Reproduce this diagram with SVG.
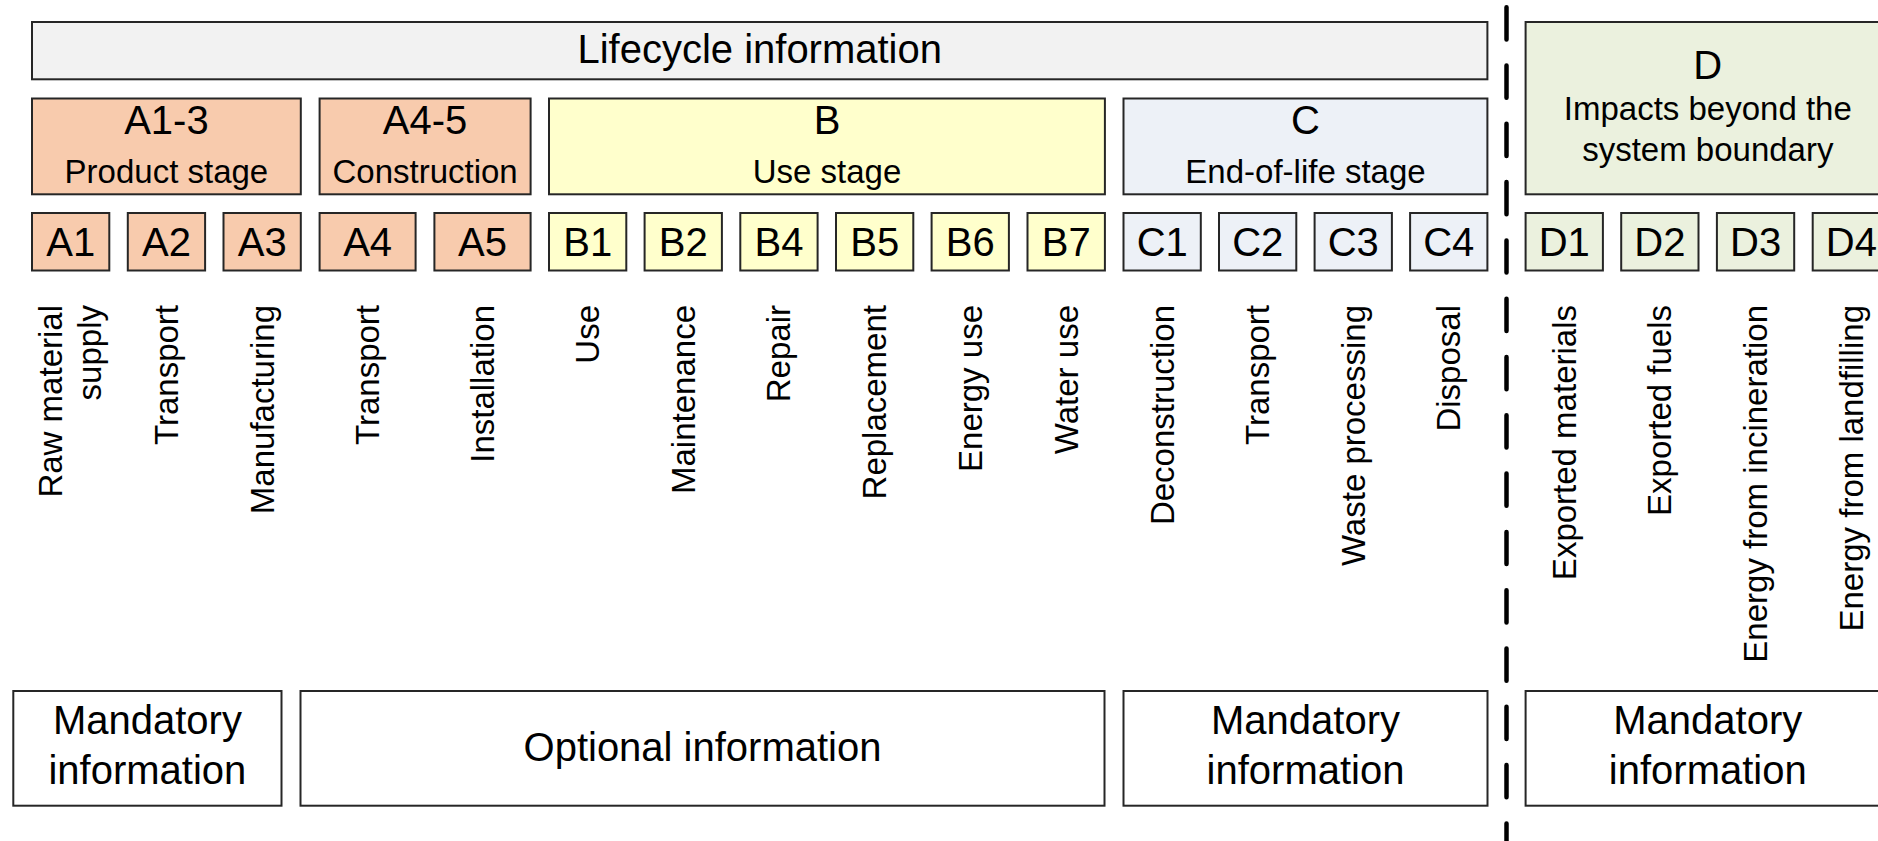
<svg xmlns="http://www.w3.org/2000/svg" width="1878" height="841" viewBox="0 0 1878 841">
<style>
text{font-family:"Liberation Sans",Arial,Helvetica,sans-serif;fill:#000}
.box{stroke:#262626;stroke-width:2}
.life{fill:#f2f2f2}
.a{fill:#f8cbad}
.b{fill:#ffffcc}
.c{fill:#edf1f7}
.d{fill:#ebf1de}
.w{fill:#ffffff}
.t40{font-size:40px;text-anchor:middle}
.t33{font-size:33px;text-anchor:middle}
.v{font-size:33px;text-anchor:end}
.bnd{fill:none;stroke:#000;stroke-width:4.5;stroke-linecap:round;stroke-dasharray:32.2 26.1}
</style>
<rect width="1878" height="841" fill="#ffffff"/>

<g id="lifecycle">
<rect class="box life" x="32" y="22" width="1455.4" height="57.3"/>
<text class="t40" x="759.7" y="63">Lifecycle information</text>
</g>

<g id="A1-3">
<rect class="box a" x="32" y="98.5" width="268.8" height="95.8"/>
<text class="t40" x="166.4" y="134">A1-3</text>
<text class="t33" x="166.4" y="183">Product stage</text>
</g>
<g id="A4-5">
<rect class="box a" x="319.6" y="98.5" width="211" height="95.8"/>
<text class="t40" x="425.1" y="134">A4-5</text>
<text class="t33" x="425.1" y="183">Construction</text>
</g>
<g id="B">
<rect class="box b" x="549" y="98.5" width="555.9" height="95.8"/>
<text class="t40" x="827" y="134">B</text>
<text class="t33" x="827" y="183">Use stage</text>
</g>
<g id="C">
<rect class="box c" x="1123.5" y="98.5" width="363.9" height="95.8"/>
<text class="t40" x="1305.5" y="134">C</text>
<text class="t33" x="1305.5" y="183">End-of-life stage</text>
</g>
<g id="D">
<rect class="box d" x="1525.6" y="22" width="364.4" height="172.3"/>
<text class="t40" x="1707.8" y="79">D</text>
<text class="t33" x="1707.8" y="120">Impacts beyond the</text>
<text class="t33" x="1707.8" y="161">system boundary</text>
</g>

<g id="A1"><rect class="box a" x="32" y="213" width="77.3" height="57.5"/><text class="t40" x="70.7" y="255.6">A1</text>
<text class="v" transform="translate(70.7,305) rotate(-90)"><tspan x="0" y="-9">Raw material</tspan><tspan x="0" y="30.4">supply</tspan></text></g>
<g id="A2"><rect class="box a" x="127.8" y="213" width="77.3" height="57.5"/><text class="t40" x="166.5" y="255.6">A2</text>
<text class="v" transform="translate(166.5,305) rotate(-90)" y="11.4">Transport</text></g>
<g id="A3"><rect class="box a" x="223.5" y="213" width="77.3" height="57.5"/><text class="t40" x="262.2" y="255.6">A3</text>
<text class="v" transform="translate(262.2,305) rotate(-90)" y="11.4">Manufacturing</text></g>
<g id="A4"><rect class="box a" x="319.6" y="213" width="96" height="57.5"/><text class="t40" x="367.6" y="255.6">A4</text>
<text class="v" transform="translate(367.6,305) rotate(-90)" y="11.4">Transport</text></g>
<g id="A5"><rect class="box a" x="434.4" y="213" width="96.2" height="57.5"/><text class="t40" x="482.5" y="255.6">A5</text>
<text class="v" transform="translate(482.5,305) rotate(-90)" y="11.4">Installation</text></g>

<g id="B1"><rect class="box b" x="549" y="213" width="77.3" height="57.5"/><text class="t40" x="587.7" y="255.6">B1</text>
<text class="v" transform="translate(587.7,305) rotate(-90)" y="11.4">Use</text></g>
<g id="B2"><rect class="box b" x="644.6" y="213" width="77.3" height="57.5"/><text class="t40" x="683.3" y="255.6">B2</text>
<text class="v" transform="translate(683.3,305) rotate(-90)" y="11.4">Maintenance</text></g>
<g id="B4"><rect class="box b" x="740.3" y="213" width="77.3" height="57.5"/><text class="t40" x="779" y="255.6">B4</text>
<text class="v" transform="translate(779,305) rotate(-90)" y="11.4">Repair</text></g>
<g id="B5"><rect class="box b" x="836" y="213" width="77.3" height="57.5"/><text class="t40" x="874.7" y="255.6">B5</text>
<text class="v" transform="translate(874.7,305) rotate(-90)" y="11.4">Replacement</text></g>
<g id="B6"><rect class="box b" x="931.6" y="213" width="77.3" height="57.5"/><text class="t40" x="970.3" y="255.6">B6</text>
<text class="v" transform="translate(970.3,305) rotate(-90)" y="11.4">Energy use</text></g>
<g id="B7"><rect class="box b" x="1027.5" y="213" width="77.4" height="57.5"/><text class="t40" x="1066.2" y="255.6">B7</text>
<text class="v" transform="translate(1066.2,305) rotate(-90)" y="11.4">Water use</text></g>

<g id="C1"><rect class="box c" x="1123.5" y="213" width="77.3" height="57.5"/><text class="t40" x="1162.2" y="255.6">C1</text>
<text class="v" transform="translate(1162.2,305) rotate(-90)" y="11.4">Deconstruction</text></g>
<g id="C2"><rect class="box c" x="1219" y="213" width="77.3" height="57.5"/><text class="t40" x="1257.7" y="255.6">C2</text>
<text class="v" transform="translate(1257.7,305) rotate(-90)" y="11.4">Transport</text></g>
<g id="C3"><rect class="box c" x="1314.6" y="213" width="77.3" height="57.5"/><text class="t40" x="1353.3" y="255.6">C3</text>
<text class="v" transform="translate(1353.3,305) rotate(-90)" y="11.4">Waste processing</text></g>
<g id="C4"><rect class="box c" x="1410.1" y="213" width="77.3" height="57.5"/><text class="t40" x="1448.8" y="255.6">C4</text>
<text class="v" transform="translate(1448.8,305) rotate(-90)" y="11.4">Disposal</text></g>

<g id="D1"><rect class="box d" x="1525.6" y="213" width="77.3" height="57.5"/><text class="t40" x="1564.3" y="255.6">D1</text>
<text class="v" transform="translate(1564.3,305) rotate(-90)" y="11.4">Exported materials</text></g>
<g id="D2"><rect class="box d" x="1621.2" y="213" width="77.3" height="57.5"/><text class="t40" x="1659.9" y="255.6">D2</text>
<text class="v" transform="translate(1659.9,305) rotate(-90)" y="11.4">Exported fuels</text></g>
<g id="D3"><rect class="box d" x="1716.9" y="213" width="77.3" height="57.5"/><text class="t40" x="1755.6" y="255.6">D3</text>
<text class="v" transform="translate(1755.6,305) rotate(-90)" y="11.4">Energy from incineration</text></g>
<g id="D4"><rect class="box d" x="1812.7" y="213" width="77.3" height="57.5"/><text class="t40" x="1851.4" y="255.6">D4</text>
<text class="v" transform="translate(1851.4,305) rotate(-90)" y="11.4">Energy from landfilling</text></g>

<g id="mandatory-A">
<rect class="box w" x="13.3" y="691" width="268.2" height="114.7"/>
<text class="t40" x="147.4" y="734">Mandatory</text>
<text class="t40" x="147.4" y="784">information</text>
</g>
<g id="optional">
<rect class="box w" x="300.5" y="691" width="804" height="114.7"/>
<text class="t40" x="702.5" y="761">Optional information</text>
</g>
<g id="mandatory-C">
<rect class="box w" x="1123.5" y="691" width="364" height="114.7"/>
<text class="t40" x="1305.5" y="734">Mandatory</text>
<text class="t40" x="1305.5" y="784">information</text>
</g>
<g id="mandatory-D">
<rect class="box w" x="1525.6" y="691" width="364.4" height="114.7"/>
<text class="t40" x="1707.8" y="734">Mandatory</text>
<text class="t40" x="1707.8" y="784">information</text>
</g>

<g id="connectors">
<path class="bnd" d="M1506.5 7.2 V841"/>
</g>
</svg>
